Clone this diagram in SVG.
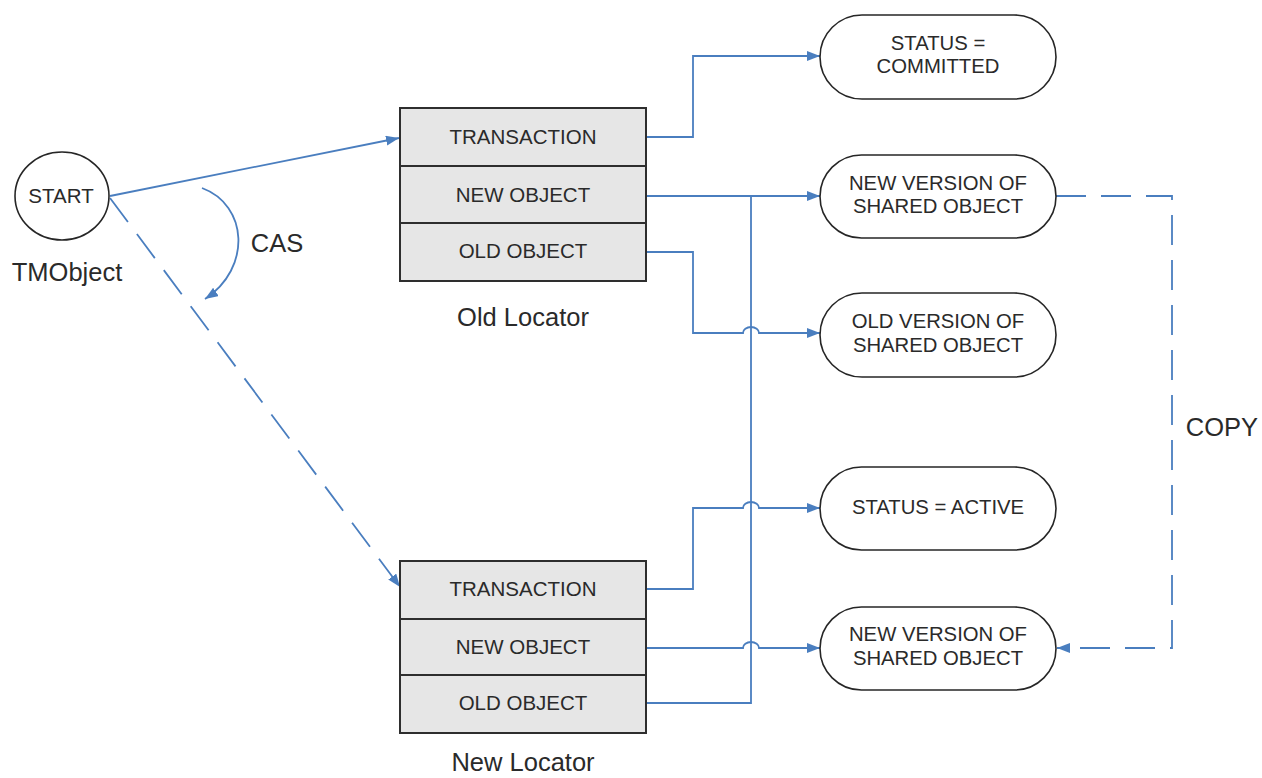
<svg xmlns="http://www.w3.org/2000/svg" width="1262" height="778" viewBox="0 0 1262 778">
<style>
text{font-family:"Liberation Sans",Arial,sans-serif;fill:#2a2a2a;text-anchor:middle;dominant-baseline:central}
.big{font-size:25.5px}
.box{font-size:20.5px}
.st{font-size:20.3px}
.row{fill:#e6e6e6;stroke:#2e2e2e;stroke-width:2}
.term{fill:#fff;stroke:#262626;stroke-width:1.6}
.c{fill:none;stroke:#4a7ebf;stroke-width:1.8}
.d{stroke-dasharray:30 15}
</style>
<defs>
<marker id="ah" markerUnits="userSpaceOnUse" markerWidth="14" markerHeight="12" refX="13" refY="5" orient="auto">
<path d="M0,0 L13,5 L0,10 z" fill="#4a7ebf"/>
</marker>
</defs>
<rect width="1262" height="778" fill="#fff"/>

<g id="connectors">
<path class="c" d="M110,196 L399,138" marker-end="url(#ah)"/>
<path class="c d" d="M110,198 L400,587" marker-end="url(#ah)"/>
<path class="c" d="M202,188 C248,205 252,268 205,299" marker-end="url(#ah)"/>
<path class="c" d="M646,137 H693 V56 H820" marker-end="url(#ah)"/>
<path class="c" d="M646,196 H820" marker-end="url(#ah)"/>
<path class="c" d="M646,252 H693 V333 H743 A8,6 0 0 1 759,333 H820" marker-end="url(#ah)"/>
<path class="c" d="M646,589 H693 V508 H743 A8,6 0 0 1 759,508 H820" marker-end="url(#ah)"/>
<path class="c" d="M646,648 H743 A8,6 0 0 1 759,648 H820" marker-end="url(#ah)"/>
<path class="c" d="M646,703 H751 V196"/>
<path class="c d" d="M1056,196 H1172 V648 H1057" marker-end="url(#ah)"/>
<text class="big" x="277" y="243">CAS</text>
<text class="big" x="1222" y="427">COPY</text>
</g>

<g id="start">
<ellipse cx="62" cy="196" rx="47" ry="44" class="term"/>
<text class="box" x="61" y="195">START</text>
<text class="big" x="67" y="272">TMObject</text>
</g>

<g id="old-locator">
<rect class="row" x="400" y="108" width="246" height="58"/>
<rect class="row" x="400" y="166" width="246" height="57"/>
<rect class="row" x="400" y="223" width="246" height="58"/>
<text class="box" x="523" y="136">TRANSACTION</text>
<text class="box" x="523" y="194">NEW OBJECT</text>
<text class="box" x="523" y="250">OLD OBJECT</text>
<text class="big" x="523" y="317">Old Locator</text>
</g>

<g id="new-locator">
<rect class="row" x="400" y="561" width="246" height="58"/>
<rect class="row" x="400" y="619" width="246" height="56"/>
<rect class="row" x="400" y="675" width="246" height="58"/>
<text class="box" x="523" y="588">TRANSACTION</text>
<text class="box" x="523" y="646">NEW OBJECT</text>
<text class="box" x="523" y="702">OLD OBJECT</text>
<text class="big" x="523" y="762">New Locator</text>
</g>

<g id="status-committed">
<rect class="term" x="820" y="15" width="236" height="84" rx="42"/>
<text class="st" x="938" y="43">STATUS =</text>
<text class="st" x="938" y="66">COMMITTED</text>
</g>

<g id="new-version-1">
<rect class="term" x="820" y="155" width="236" height="83" rx="41.5"/>
<text class="st" x="938" y="183">NEW VERSION OF</text>
<text class="st" x="938" y="206">SHARED OBJECT</text>
</g>

<g id="old-version">
<rect class="term" x="820" y="293" width="236" height="84" rx="42"/>
<text class="st" x="938" y="321">OLD VERSION OF</text>
<text class="st" x="938" y="345">SHARED OBJECT</text>
</g>

<g id="status-active">
<rect class="term" x="820" y="467" width="236" height="83" rx="41.5"/>
<text class="st" x="938" y="507">STATUS = ACTIVE</text>
</g>

<g id="new-version-2">
<rect class="term" x="820" y="607" width="236" height="83" rx="41.5"/>
<text class="st" x="938" y="634">NEW VERSION OF</text>
<text class="st" x="938" y="658">SHARED OBJECT</text>
</g>
</svg>
